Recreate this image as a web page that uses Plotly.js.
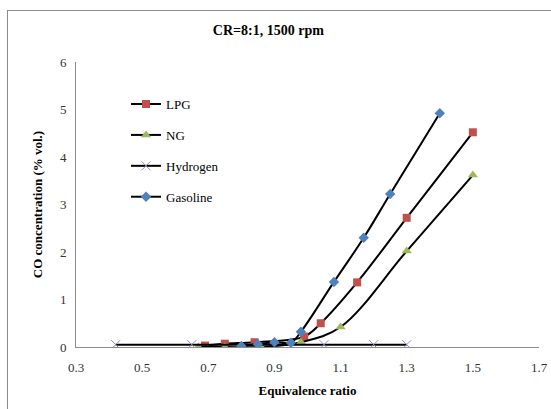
<!DOCTYPE html>
<html><head><meta charset="utf-8">
<script src="https://cdn.plot.ly/plotly-3.0.1.min.js"></script>
<style>
html,body{margin:0;padding:0;background:#fff;}
#frame{position:absolute;left:7px;top:10px;width:600px;height:500px;border:1px solid #8c8c8c;box-sizing:border-box;}
#chart{position:absolute;left:0;top:0;width:551px;height:409px;}
</style>
</head><body>
<div id="frame"></div>
<div id="chart"></div>
<script>
const lpgX = [0.69, 0.75, 0.84, 0.99, 1.04, 1.15, 1.30, 1.50];
const lpgY = [0.03, 0.07, 0.10, 0.22, 0.50, 1.36, 2.72, 4.52];
const ngX = [0.67, 0.75, 0.86, 0.98, 1.10, 1.30, 1.50];
const ngY = [0.00, 0.00, 0.00, 0.10, 0.42, 2.02, 3.62];
const h2X = [0.42, 0.65, 1.05, 1.20, 1.30];
const h2Y = [0.05, 0.05, 0.05, 0.05, 0.05];
const gasX = [0.80, 0.85, 0.90, 0.95, 0.98, 1.08, 1.17, 1.25, 1.40];
const gasY = [0.02, 0.06, 0.10, 0.09, 0.32, 1.37, 2.30, 3.22, 4.92];
const seriesNames = ['LPG', 'NG', 'Hydrogen', 'Gasoline'];
const xTicks = [0.3, 0.5, 0.7, 0.9, 1.1, 1.3, 1.5, 1.7];
const yTicks = [0, 1, 2, 3, 4, 5, 6];

const line = {color: '#000', width: 2, shape: 'spline', smoothing: 1};
const traces = [
  {x: lpgX, y: lpgY, name: seriesNames[0], legendgroup: 'a', mode: 'lines+markers', line: line,
   marker: {symbol: 'square', size: 8, color: '#C0504D'}},
  {x: ngX, y: ngY, name: seriesNames[1], legendgroup: 'b', mode: 'lines+markers', line: line,
   marker: {symbol: 'triangle-up', size: 9, color: '#9BBB59'}},
  {x: h2X, y: h2Y, name: seriesNames[2], legendgroup: 'c', mode: 'lines+markers', line: line,
   marker: {symbol: 'x-thin-open', size: 9, color: '#9A8BB5', line: {color: '#9A8BB5', width: 1}}},
  {x: gasX, y: gasY, name: seriesNames[3], legendgroup: 'd', mode: 'lines+markers', line: line,
   marker: {symbol: 'diamond', size: 8, color: '#4F81BD'}}
];
const font = {family: '"Liberation Serif", "Times New Roman", serif', color: '#000'};
const layout = {
  width: 551, height: 409,
  margin: {l: 76, r: 12, t: 62, b: 62},
  paper_bgcolor: 'rgba(0,0,0,0)', plot_bgcolor: 'rgba(0,0,0,0)',
  font: Object.assign({size: 12}, font),
  title: {text: '<b>CR=8:1, 1500 rpm</b>', font: Object.assign({size: 14}, font), x: 0.487, xanchor: 'center', y: 0.927, yanchor: 'middle'},
  showlegend: true,
  legend: {x: 0.108, y: 0.905, xanchor: 'left', yanchor: 'top', bgcolor: 'rgba(0,0,0,0)',
    traceorder: 'grouped', tracegroupgap: 11, itemwidth: 30, font: Object.assign({size: 13}, font)},
  xaxis: {range: [0.3, 1.7], tickvals: xTicks, ticktext: xTicks.map(v => v.toFixed(1)), showgrid: false, zeroline: false,
    showline: true, linecolor: '#8c8c8c', linewidth: 1, ticks: 'outside', ticklen: 8, tickcolor: 'rgba(0,0,0,0)',
    tickfont: Object.assign({size: 13}, font, {color: '#333'}),
    title: {text: '<b>Equivalence ratio</b>', font: Object.assign({size: 13}, font), standoff: 12}},
  yaxis: {range: [0, 6], tickvals: yTicks, showgrid: false, zeroline: false,
    showline: true, linecolor: '#8c8c8c', linewidth: 1, ticks: 'outside', ticklen: 6, tickcolor: 'rgba(0,0,0,0)',
    tickfont: Object.assign({size: 13}, font, {color: '#333'}),
    title: {text: '<b>CO concentration (% vol.)</b>', font: Object.assign({size: 13}, font), standoff: 14}}
};
Plotly.newPlot('chart', traces, layout, {displayModeBar: false, staticPlot: true});
</script>
</body></html>
